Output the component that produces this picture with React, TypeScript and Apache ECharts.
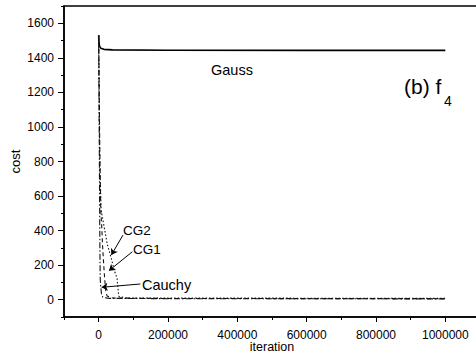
import React, { useEffect, useRef } from "react";
import * as echarts from "echarts";

const gaussData: [number, number][] = [
  [0, 1530], [800, 1492], [2500, 1468], [6000, 1456], [15000, 1449],
  [40000, 1446], [200000, 1444], [600000, 1443], [1000000, 1443],
];
const cauchyData: [number, number][] = [
  [0, 1530], [1200, 1100], [2500, 650], [3500, 300], [4500, 120], [6000, 78],
  [8000, 35], [12000, 14], [30000, 8], [200000, 6], [1000000, 5],
];
const cg1Data: [number, number][] = [
  [0, 1530], [3000, 900], [6000, 520], [9000, 420], [11000, 320], [14000, 220],
  [17000, 130], [20000, 60], [24000, 22], [40000, 10], [200000, 7], [1000000, 6],
];
const cg2Data: [number, number][] = [
  [0, 1530], [3000, 820], [7000, 520], [15000, 430], [25000, 320], [35000, 250],
  [45000, 170], [53000, 125], [56000, 60], [58000, 20], [80000, 10], [1000000, 8],
];
const xLabels = [0, 200000, 400000, 600000, 800000, 1000000];
const yLabels = [0, 200, 400, 600, 800, 1000, 1200, 1400, 1600];
const arrows: [number, number, number, number][] = [
  [70100, 374, 36650, 259], // CG2
  [97260, 278, 29700, 168], // CG1
  [120300, 91, 8660, 72], // Cauchy
];

const FONT = "'Liberation Sans', Arial, sans-serif";

export default function App() {
  const ref = useRef<HTMLDivElement>(null);
  useEffect(() => {
    const chart = echarts.init(ref.current!, undefined, { renderer: "svg" });
    chart.setOption({
      animation: false,
      backgroundColor: "#fff",
      grid: {
        left: 64, right: -4, top: 6, bottom: 36,
        containLabel: false,
        outerBoundsMode: "none",
        show: true, borderColor: "#000", borderWidth: 1.5,
      },
      xAxis: {
        type: "value",
        min: -100000, max: 1100000, interval: 200000,
        name: "iteration", nameLocation: "middle", nameGap: 23,
        nameMoveOverlap: false,
        nameTextStyle: { color: "#000", fontSize: 12.5, fontFamily: FONT },
        axisLine: { show: true, onZero: false, lineStyle: { color: "#000", width: 1.5 } },
        axisTick: { show: true, length: 3, lineStyle: { color: "#000" } },
        minorTick: { show: true, splitNumber: 2, length: 5, lineStyle: { color: "#000" } },
        axisLabel: {
          customValues: xLabels,
          color: "#000", fontSize: 12, fontFamily: FONT, margin: 12,
          formatter: (v: number) => String(v),
        },
        splitLine: { show: false },
      },
      yAxis: {
        type: "value",
        min: -100, max: 1700, interval: 200,
        name: "cost", nameLocation: "middle", nameGap: 42,
        nameMoveOverlap: false,
        nameTextStyle: { color: "#000", fontSize: 13, fontFamily: FONT },
        axisLine: { show: true, onZero: false, lineStyle: { color: "#000", width: 1.5 } },
        axisTick: { show: true, length: 3, lineStyle: { color: "#000" } },
        minorTick: { show: true, splitNumber: 2, length: 6, lineStyle: { color: "#000" } },
        axisLabel: {
          customValues: yLabels,
          color: "#000", fontSize: 12, fontFamily: FONT, margin: 10,
          formatter: (v: number) => String(v),
        },
        splitLine: { show: false },
      },
      series: [
        {
          name: "Gauss", type: "line", data: gaussData, symbol: "none",
          lineStyle: { color: "#000", width: 1.6 },
        },
        {
          name: "Cauchy", type: "line", data: cauchyData, symbol: "none",
          lineStyle: { color: "#111", width: 1.1, type: [6, 2, 1.5, 2] },
        },
        {
          name: "CG1", type: "line", data: cg1Data, symbol: "none",
          lineStyle: { color: "#111", width: 1.1, type: [4, 3] },
        },
        {
          name: "CG2", type: "line", data: cg2Data, symbol: "none",
          lineStyle: { color: "#111", width: 1.1, type: [1.5, 2] },
          markLine: {
            silent: true,
            symbol: ["none", "arrow"],
            symbolSize: 6,
            label: { show: false },
            lineStyle: { color: "#000", width: 1, type: "solid" },
            data: arrows.map(([x1, y1, x2, y2]) => [
              { coord: [x1, y1] },
              { coord: [x2, y2] },
            ]),
          },
        },
      ],
      graphic: [
        { type: "text", left: 211, top: 62, style: { text: "Gauss", font: `14.5px ${FONT}`, fill: "#000" } },
        { type: "text", left: 123, top: 223, style: { text: "CG2", font: `13.5px ${FONT}`, fill: "#000" } },
        { type: "text", left: 133, top: 242, style: { text: "CG1", font: `13.5px ${FONT}`, fill: "#000" } },
        { type: "text", left: 142, top: 277, style: { text: "Cauchy", font: `14.5px ${FONT}`, fill: "#000" } },
        { type: "text", left: 404, top: 76, style: { text: "(b) f", font: `21px ${FONT}`, fill: "#000" } },
        { type: "text", left: 444, top: 94, style: { text: "4", font: `14px ${FONT}`, fill: "#000" } },
      ],
    });
    return () => chart.dispose();
  }, []);
  return (
    <div
      ref={ref}
      style={{ position: "fixed", left: 0, top: 0, width: 476, height: 353, background: "#fff" }}
    />
  );
}
